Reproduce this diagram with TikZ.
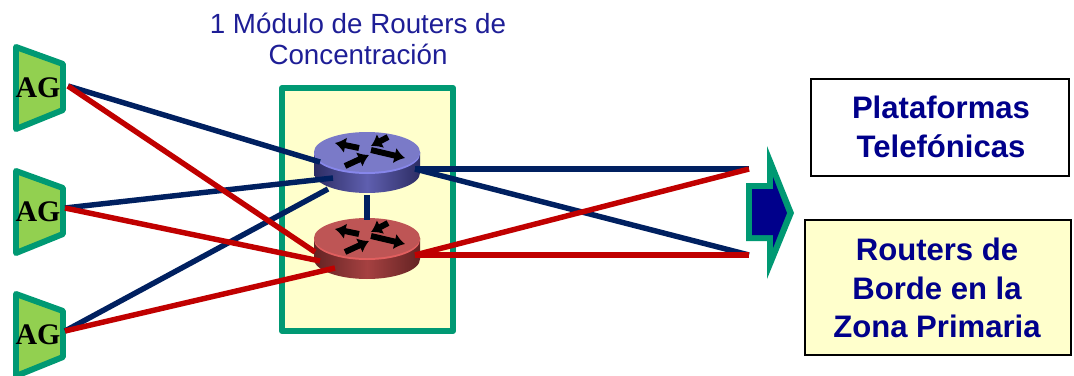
\documentclass[tikz,border=0pt]{standalone}
\usepackage{fontspec}
\usepackage{tikz}
\usetikzlibrary{arrows.meta}
\setmainfont{Liberation Sans}
\newfontfamily\agfont{Liberation Serif}
\definecolor{framegreen}{RGB}{0,153,115}
\definecolor{paleyellow}{RGB}{255,255,204}
\definecolor{aggreen}{RGB}{146,208,80}
\definecolor{linknavy}{RGB}{0,32,96}
\definecolor{linkred}{RGB}{192,0,0}
\definecolor{textnavy}{RGB}{0,0,139}
\definecolor{titleblue}{RGB}{30,30,150}
\definecolor{bluetop}{RGB}{122,122,200}
\definecolor{bluerim}{RGB}{135,135,235}
\definecolor{bluedark}{RGB}{45,45,100}
\definecolor{bluemid}{RGB}{95,95,175}
\definecolor{redtop}{RGB}{190,85,85}
\definecolor{redrim}{RGB}{225,95,95}
\definecolor{reddark}{RGB}{100,35,35}
\definecolor{redmid}{RGB}{165,65,65}
\tikzset{
  agbox/.style={draw=framegreen, fill=aggreen, line width=3.4pt, line join=round},
  aglabel/.style={font=\agfont\fontsize{17}{17}\selectfont\bfseries, inner sep=0pt},
  link/.style={line width=3.1pt},
  bluelink/.style={link, draw=linknavy},
  redlink/.style={link, draw=linkred},
  platelabel/.style={align=center, text=textnavy,
    font=\fontsize{17.7}{21.8}\selectfont\bfseries, inner sep=0pt},
  platebox/.style={draw=black, line width=1.5pt},
  routerarrow/.style={-{Latex[length=6pt,width=9pt]}, black, line width=3.4pt},
}
% x y top rim mid dark
\newcommand{\routericon}[6]{
  \begin{scope}[shift={(#1,#2)}]
    \shade[left color=#6, right color=#6, middle color=#5]
      (-53,0) -- (-53,21) arc[start angle=180, end angle=0, x radius=53, y radius=20] -- (53,0) -- cycle;
    \fill[#4] (-53,0) -- (-53,2) arc[start angle=180, end angle=0, x radius=53, y radius=20] -- (53,0) -- cycle;
    \fill[#3] (0,0) ellipse[x radius=53, y radius=20];
    \draw[routerarrow] (-8,-4) -- (-32,-9);
    \draw[routerarrow] (21,-15) -- (4,-6);
    \draw[routerarrow] (4,-2) -- (38,6);
    \draw[routerarrow] (-22,14) -- (2,3);
  \end{scope}
}
\begin{document}
\begin{tikzpicture}[x=0.02cm, y=-0.02cm]
\useasboundingbox (0,0) rectangle (1074,375);

% titulo
\node[font=\fontsize{15.8}{17.6}\selectfont, text=titleblue, align=center] (title) at (358,39)
  {1 Módulo de Routers de\\Concentración};

% modulo central
\draw[draw=framegreen, fill=paleyellow, line width=3.4pt, line join=round] (282,88) rectangle (453,331);
\routericon{367}{152}{bluetop}{bluerim}{bluemid}{bluedark}
\routericon{367}{238}{redtop}{redrim}{redmid}{reddark}

% agregadores
\foreach \y/\name in {0/ag1, 124/ag2, 247/ag3} {
  \draw[agbox] (16,47+\y) -- (63,64+\y) -- (63,110+\y) -- (16,129+\y) -- cycle;
  \node[aglabel] (\name) at (38,88+\y) {AG};
}

% puntos de conexion
\coordinate (ag1out) at (68,86);
\coordinate (ag2out) at (65,208);
\coordinate (ag3out) at (65,331);
\coordinate (blueA) at (320,162);
\coordinate (blueB) at (333,178);
\coordinate (blueC) at (328,189);
\coordinate (blueD) at (415,169);
\coordinate (blueS) at (367,195);
\coordinate (redN) at (367,220);
\coordinate (redA) at (315,252);
\coordinate (redB) at (320,261);
\coordinate (redC) at (335,268);
\coordinate (redD) at (415,255);
\coordinate (outtop) at (749,169);
\coordinate (outbot) at (749,255);

\draw[bluelink] (ag1out) -- (blueA);
\draw[bluelink] (ag2out) -- (blueB);
\draw[bluelink] (ag3out) -- (blueC);
\draw[redlink] (ag1out) -- (redA);
\draw[redlink] (ag2out) -- (redB);
\draw[redlink] (ag3out) -- (redC);
\draw[bluelink] (blueS) -- (redN);
\draw[bluelink] (blueD) -- (outtop);
\draw[bluelink] (blueD) -- (outbot);
\draw[redlink] (redD) -- (outtop);
\draw[redlink] (redD) -- (outbot);

% flecha
\fill[framegreen] (746,183) -- (767,183) -- (767,146) -- (794,213) -- (767,279) -- (767,241) -- (746,241) -- cycle;
\fill[textnavy] (752,189) -- (773,189) -- (773,177) -- (787,213) -- (773,248) -- (773,235) -- (752,235) -- cycle;

% cajas
\draw[platebox, fill=white] (811,79) rectangle (1069,176);
\node[platelabel] (plataformas) at (941,127) {Plataformas\\Telefónicas};
\draw[platebox, fill=paleyellow] (805,220) rectangle (1071,355);
\node[platelabel] (borde) at (937,288) {Routers de\\Borde en la\\Zona Primaria};
\end{tikzpicture}
\end{document}
